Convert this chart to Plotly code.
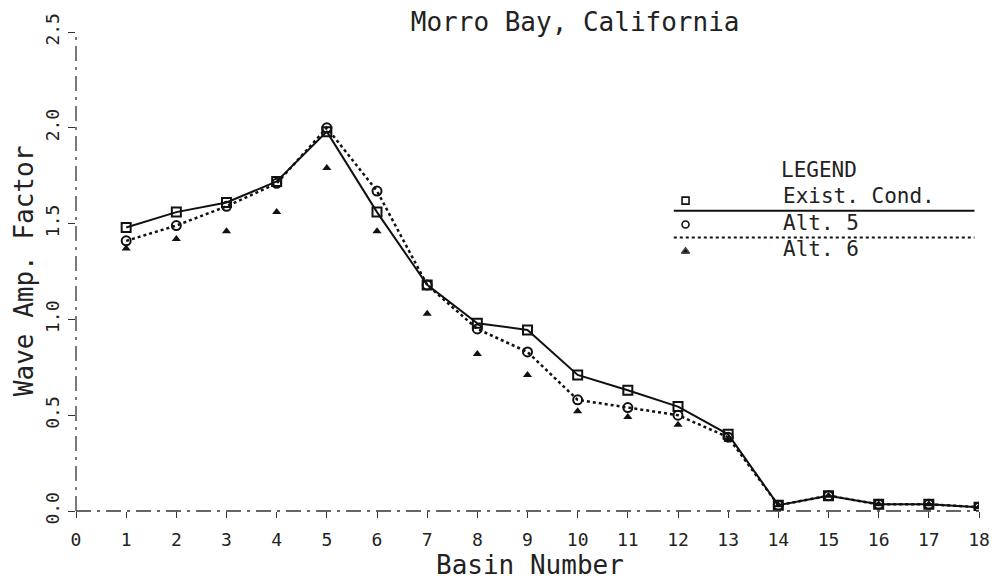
import plotly.graph_objects as go

# Basin numbers along the harbour
basins = list(range(1, 19))

# Wave amplification factor for each basin
exist_cond = [1.48, 1.56, 1.61, 1.72, 1.98, 1.56, 1.18, 0.98, 0.945, 0.71, 0.63, 0.545,
              0.40, 0.03, 0.08, 0.035, 0.035, 0.02]
alt_5 = [1.41, 1.49, 1.59, 1.71, 2.00, 1.67, 1.18, 0.95, 0.83, 0.58, 0.54, 0.50,
         0.385, 0.03, 0.08, 0.035, 0.035, 0.02]
alt_6 = [1.37, 1.42, 1.46, 1.56, 1.79, 1.46, 1.03, 0.82, 0.71, 0.52, 0.49, 0.45,
         0.37, 0.03, 0.08, 0.035, 0.035, 0.02]

x_ticks = list(range(0, 19))
y_ticks = [0.0, 0.5, 1.0, 1.5, 2.0, 2.5]

series_names = ["Exist. Cond.", "Alt. 5", "Alt. 6"]

FONT = "DejaVu Sans Mono"
INK = "#111111"
TEXT = "#222222"

fig = go.Figure()

fig.add_trace(go.Scatter(
    x=basins, y=exist_cond, name=series_names[0], mode="lines+markers",
    line=dict(color=INK, width=2),
    marker=dict(symbol="square-open", size=9, color=INK, line=dict(width=2)),
))
fig.add_trace(go.Scatter(
    x=basins, y=alt_5, name=series_names[1], mode="lines+markers",
    line=dict(color=INK, width=2.5, dash="dot"),
    marker=dict(symbol="circle-open", size=9, color=INK, line=dict(width=2)),
))
fig.add_trace(go.Scatter(
    x=basins, y=alt_6, name=series_names[2], mode="markers",
    marker=dict(symbol="triangle-up", size=8, color=INK),
))

# Legend keys live on a hidden unit overlay so they sit in plot-fraction space
key_x = [0.675, 0.675, 0.675]
key_y = [0.648, 0.598, 0.542]
key_symbols = ["square-open", "circle-open", "triangle-up"]
for kx, ky, sym in zip(key_x, key_y, key_symbols):
    fig.add_trace(go.Scatter(
        x=[kx], y=[ky], xaxis="x2", yaxis="y2", mode="markers", showlegend=False,
        marker=dict(symbol=sym, size=7, color=INK, line=dict(width=1.6)),
        hoverinfo="skip",
    ))

shapes = [
    # broken plotter-style axis lines
    dict(type="line", xref="paper", yref="paper", x0=0, x1=0, y0=0, y1=1,
         line=dict(color="#333333", width=1.3, dash="longdashdot")),
    dict(type="line", xref="paper", yref="paper", x0=0, x1=1, y0=0, y1=0,
         line=dict(color="#333333", width=1.5, dash="longdashdot")),
    # legend rules under the first two entries
    dict(type="line", xref="paper", yref="paper", x0=0.662, x1=0.995, y0=0.627, y1=0.627,
         line=dict(color=INK, width=2)),
    dict(type="line", xref="paper", yref="paper", x0=0.662, x1=0.995, y0=0.571, y1=0.571,
         line=dict(color=INK, width=2.2, dash="dot")),
]

annotations = [
    dict(text="Basin Number", xref="paper", yref="paper", x=0.503, y=-0.112,
         xanchor="center", yanchor="middle", showarrow=False,
         font=dict(family=FONT, size=26, color=TEXT)),
    dict(text="Wave Amp. Factor", xref="paper", yref="paper", x=-0.058, y=0.5,
         xanchor="center", yanchor="middle", textangle=-90, showarrow=False,
         font=dict(family=FONT, size=26, color=TEXT)),
    dict(text="LEGEND", xref="paper", yref="paper", x=0.779, y=0.712,
         xanchor="left", yanchor="middle", showarrow=False,
         font=dict(family=FONT, size=21, color=TEXT)),
]
legend_text_y = [0.658, 0.602, 0.548]
for name, ty in zip(series_names, legend_text_y):
    annotations.append(dict(text=name, xref="paper", yref="paper", x=0.781, y=ty,
                            xanchor="left", yanchor="middle", showarrow=False,
                            font=dict(family=FONT, size=21, color=TEXT)))

fig.update_layout(
    width=1002, height=581,
    margin=dict(l=76, r=14, t=32, b=70),
    paper_bgcolor="white", plot_bgcolor="white",
    showlegend=False,
    title=dict(text="Morro Bay, California", x=0.574, y=0.962,
               xanchor="center", yanchor="middle", xref="container", yref="container",
               font=dict(family=FONT, size=26, color=TEXT)),
    xaxis=dict(range=[0, 18], tickmode="array", tickvals=x_ticks,
               ticktext=[str(v) for v in x_ticks],
               showgrid=False, zeroline=False, showline=False,
               ticks="outside", ticklen=6, tickwidth=1.3, tickcolor="#333333",
               ticklabelstandoff=6,
               tickfont=dict(family=FONT, size=18, color=TEXT)),
    yaxis=dict(range=[0, 2.5], tickmode="array", tickvals=y_ticks,
               ticktext=[f"{v:.1f}" for v in y_ticks],
               showgrid=False, zeroline=False, showline=False,
               ticks="outside", ticklen=7, tickwidth=1.3, tickcolor="#333333",
               tickangle=-90, ticklabelstandoff=2,
               tickfont=dict(family=FONT, size=18, color=TEXT)),
    xaxis2=dict(range=[0, 1], overlaying="x", visible=False),
    yaxis2=dict(range=[0, 1], overlaying="y", visible=False),
    shapes=shapes,
    annotations=annotations,
)

fig.write_html("out.html")
